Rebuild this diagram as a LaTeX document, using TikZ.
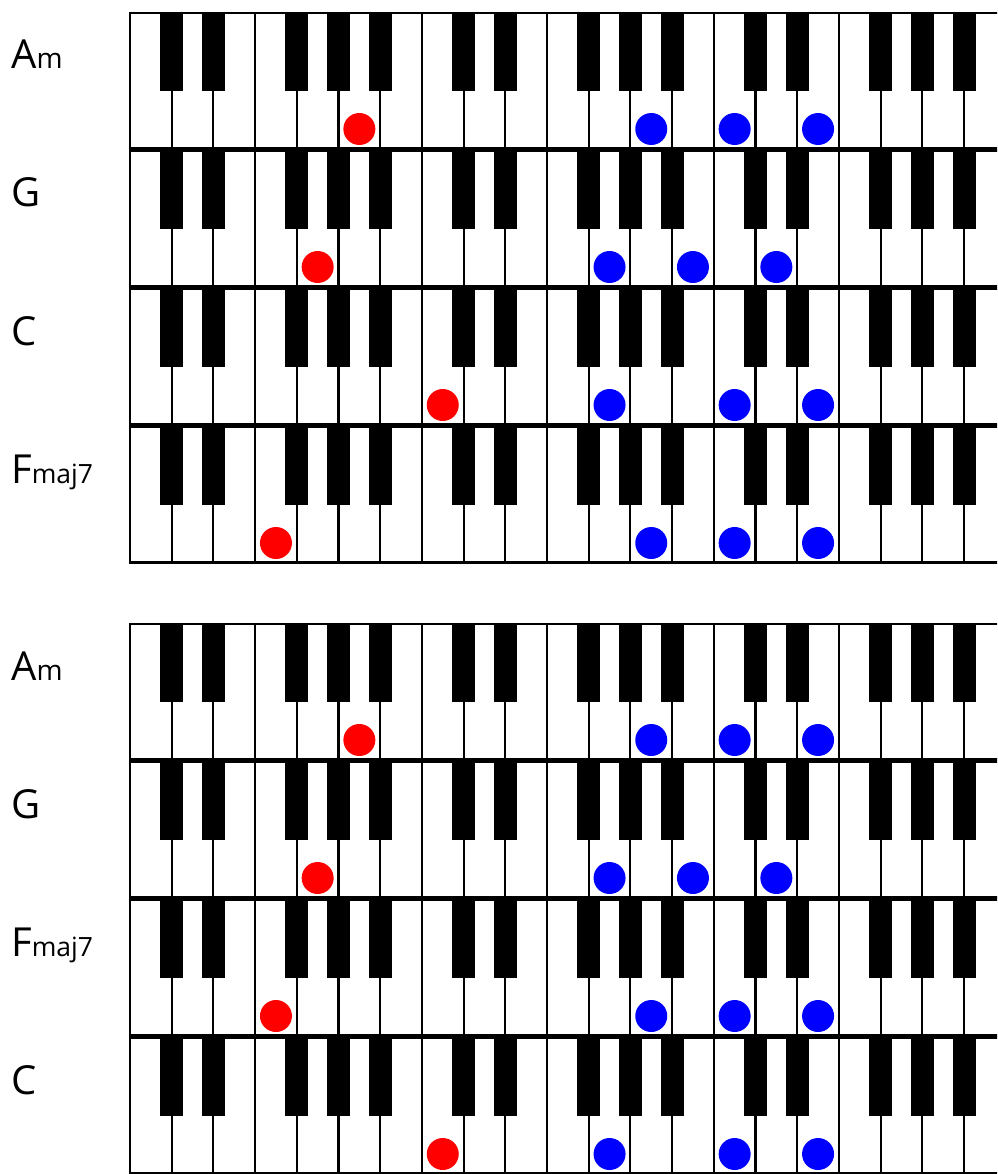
\documentclass[tikz,border=0pt]{standalone}
\usepackage{fontspec}
\setmainfont{Open Sans}
\usepackage{tikz}
\definecolor{rootred}{HTML}{FF0000}
\definecolor{noteblue}{HTML}{0000FF}

\begin{document}
\begin{tikzpicture}[
    x=1pt, y=-1pt,
    keyframe/.style={draw=black, line width=2.6pt},
    keyline/.style={draw=black, line width=2.1pt},
    blackkey/.style={fill=black},
    rootdot/.style={fill=rootred},
    notedot/.style={fill=noteblue},
    chordlbl/.style={anchor=base west, inner sep=0pt, font=\fontsize{40}{40}\selectfont}
]
    \useasboundingbox (0,0) rectangle (997,1174);
    \clip (0,0) rectangle (997,1174);
    \def\kw{41.7}

    % one keyboard per chord: top, name, letter, suffix, suffix size, root key, upper keys
    \foreach \rt/\nm/\chd/\sfx/\sfs/\red/\blues in {
        12/am1/A/m/28/5/{12,14,16},
        150/g1/G/{}/28/4/{11,13,15},
        288/c1/C/{}/28/7/{11,14,16},
        426/fmaj1/F/maj7/26.5/3/{12,14,16},
        623/am2/A/m/28/5/{12,14,16},
        761/g2/G/{}/28/4/{11,13,15},
        899/fmaj2/F/maj7/26.5/3/{12,14,16},
        1037/c2/C/{}/28/7/{11,14,16}}
    {
        % white keys
        \fill[white] (130,\rt+1) rectangle (1020,\rt+136.5);
        \foreach \k in {1,...,21}
            \draw[keyline] (130+\k*\kw,\rt+1) -- (130+\k*\kw,\rt+136.5);
        % black keys
        \foreach \k in {1,2,4,5,6,8,9,11,12,13,15,16,18,19,20}
            \fill[blackkey] (130+\k*\kw-11.5,\rt+1) rectangle (130+\k*\kw+11.5,\rt+79);
        \draw[keyframe] (130,\rt+1) rectangle (1020,\rt+136.5);

        % pressed keys
        \fill[rootdot] (130+\red*\kw+0.5*\kw,\rt+117) circle[radius=16pt];
        \foreach \b in \blues
            \fill[notedot] (130+\b*\kw+0.5*\kw,\rt+117) circle[radius=16pt];

        % chord name
        \node[chordlbl] (\nm) at (11,\rt+57) {\chd{\fontsize{\sfs}{\sfs}\selectfont\sfx}};
    }
\end{tikzpicture}
\end{document}
